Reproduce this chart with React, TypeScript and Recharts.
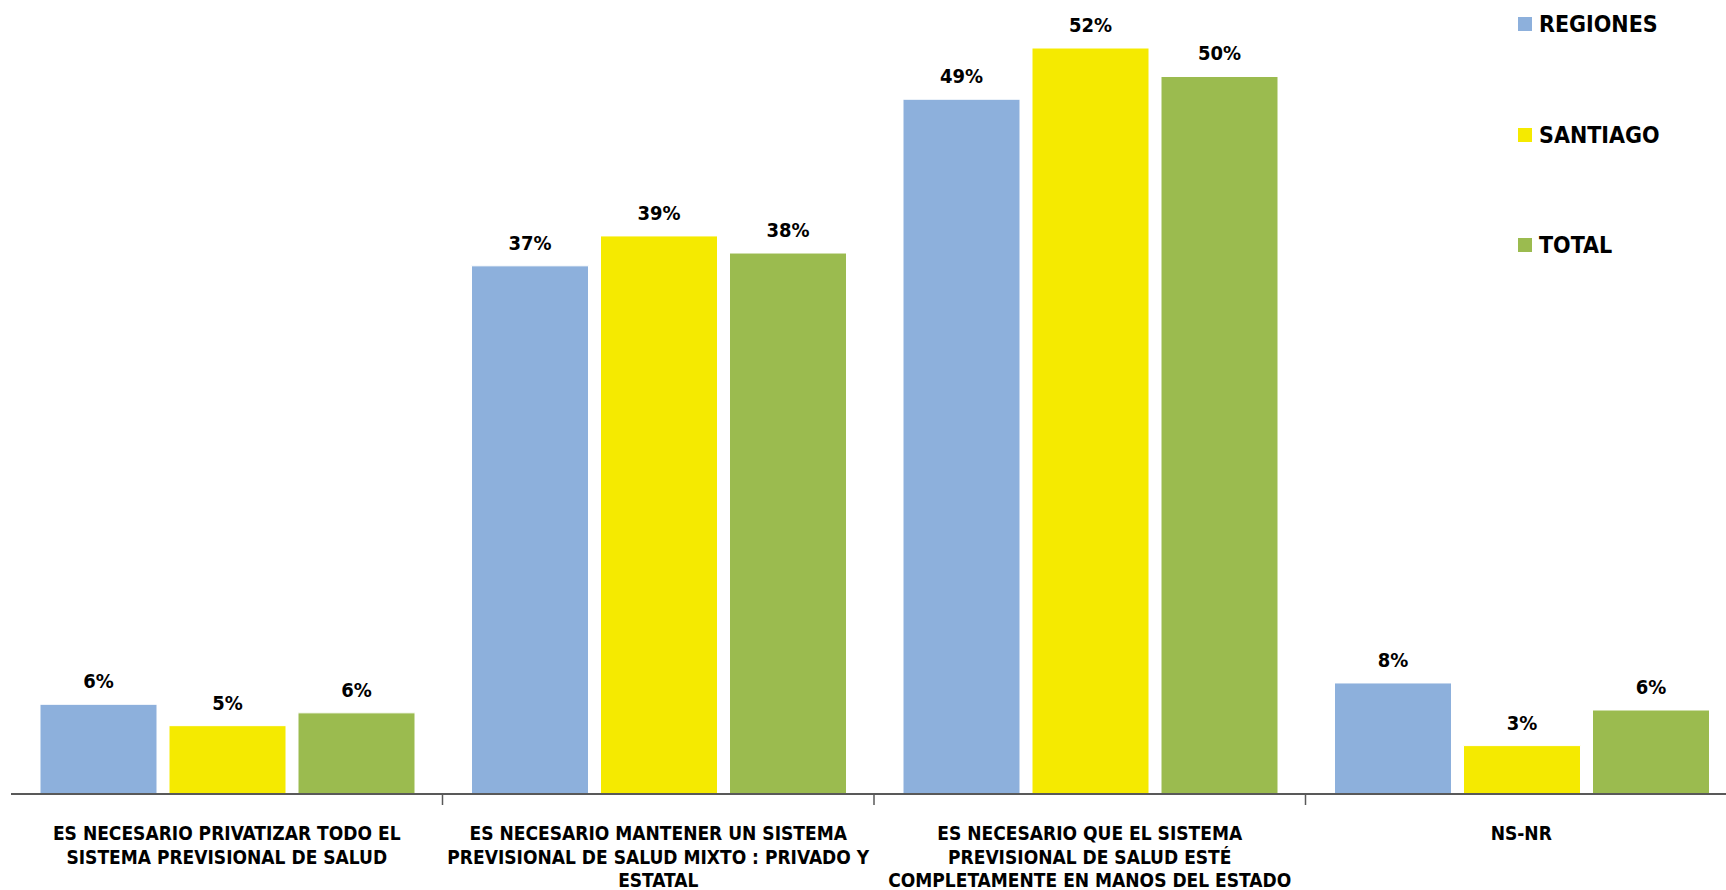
import React from 'react';
import { Bar, BarChart, LabelList, Legend, XAxis, YAxis } from 'recharts';

const categories = [
  'ES NECESARIO PRIVATIZAR TODO EL\nSISTEMA PREVISIONAL DE SALUD',
  'ES NECESARIO MANTENER UN SISTEMA\nPREVISIONAL DE SALUD MIXTO : PRIVADO Y\nESTATAL',
  'ES NECESARIO QUE EL SISTEMA\nPREVISIONAL DE SALUD ESTÉ\nCOMPLETAMENTE EN MANOS DEL ESTADO',
  'NS-NR',
];
const regiones = [6.3, 37.1, 48.8, 7.8];
const santiago = [4.8, 39.2, 52.4, 3.4];
const total = [5.7, 38.0, 50.4, 5.9];

const data = categories.map((name, i) => ({
  name,
  REGIONES: regiones[i],
  SANTIAGO: santiago[i],
  TOTAL: total[i],
}));

const CHART_W = 1740;
const CHART_H = 890;
const MARGIN = { top: 11, right: 3, left: 11, bottom: 6 };
const BAND = (CHART_W - MARGIN.left - MARGIN.right) / categories.length;

const condensed = '"DejaVu Sans Condensed", "DejaVu Sans", sans-serif';

const CategoryTick = (props: any) => {
  const { x, y, payload, index } = props;
  const lines = String(payload.value).split('\n');
  return (
    <g>
      {index > 0 && (
        <line x1={x - BAND / 2} x2={x - BAND / 2} y1={y} y2={y + 11} stroke="#595959" strokeWidth={1.5} />
      )}
      <text
        x={x}
        y={y}
        textAnchor="middle"
        fontFamily={condensed}
        fontWeight="bold"
        fontSize={19}
        fill="#000"
      >
        {lines.map((l, i) => (
          <tspan key={i} x={x} y={y + 46 + i * 23.5}>
            {l}
          </tspan>
        ))}
      </text>
    </g>
  );
};

const LegendContent = (props: any) => {
  const { payload = [] } = props;
  return (
    <div style={{ position: 'relative', width: 208, height: 270 }}>
      {payload.map((p: any, i: number) => (
        <div
          key={p.value}
          style={{
            position: 'absolute',
            left: 0,
            top: 10 + i * 110.5,
            height: 28,
            display: 'flex',
            alignItems: 'center',
          }}
        >
          <span style={{ width: 14, height: 14, background: p.color, display: 'inline-block', marginRight: 7 }} />
          <span
            style={{
              fontFamily: condensed,
              fontWeight: 'bold',
              fontSize: 23,
              color: '#000',
              lineHeight: '28px',
            }}
          >
            {p.value}
          </span>
        </div>
      ))}
    </div>
  );
};

const labelStyle = { fontFamily: condensed, fontWeight: 'bold', fontSize: 20, fill: '#000' };
const fmt = (v: any) => `${Math.round(Number(v))}%`;

export default function App() {
  return (
    <div
      style={{
        position: 'absolute',
        left: 0,
        top: 0,
        width: 1726,
        height: 890,
        overflow: 'hidden',
        background: '#fff',
      }}
    >
      <BarChart
        width={CHART_W}
        height={CHART_H}
        data={data}
        margin={MARGIN}
        barCategoryGap={29}
        barGap={12}
      >
        <XAxis
          dataKey="name"
          height={90}
          interval={0}
          tickLine={false}
          tickSize={0}
          tickMargin={0}
          axisLine={{ stroke: '#595959', strokeWidth: 2 }}
          tick={<CategoryTick />}
        />
        <YAxis hide domain={[0, 55]} />
        <Legend
          layout="vertical"
          align="center"
          verticalAlign="middle"
          wrapperStyle={{ left: 1518, top: 0, width: 208, height: 270 }}
          content={<LegendContent />}
        />
        <Bar dataKey="REGIONES" fill="#8DB0DC" stroke="#FFFFFF" strokeWidth={1} isAnimationActive={false}>
          <LabelList dataKey="REGIONES" position="top" offset={16} formatter={fmt} style={labelStyle} />
        </Bar>
        <Bar dataKey="SANTIAGO" fill="#F5EA00" stroke="#FFFFFF" strokeWidth={1} isAnimationActive={false}>
          <LabelList dataKey="SANTIAGO" position="top" offset={16} formatter={fmt} style={labelStyle} />
        </Bar>
        <Bar dataKey="TOTAL" fill="#9BBB4F" stroke="#FFFFFF" strokeWidth={1} isAnimationActive={false}>
          <LabelList dataKey="TOTAL" position="top" offset={16} formatter={fmt} style={labelStyle} />
        </Bar>
      </BarChart>
    </div>
  );
}
